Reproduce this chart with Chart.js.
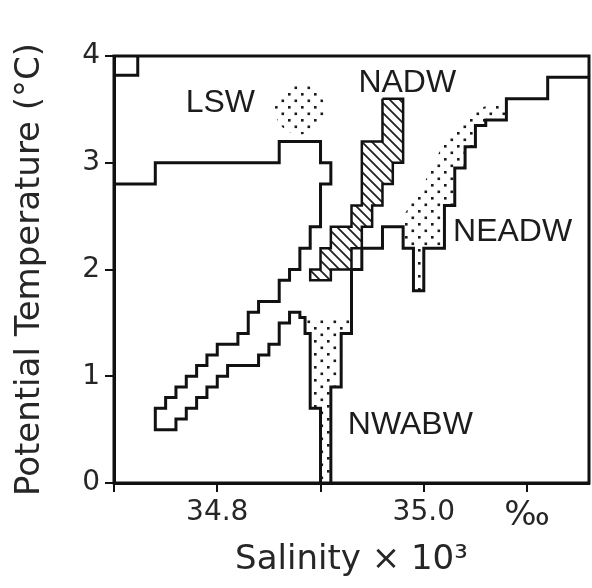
<!DOCTYPE html>
<html>
<head>
<meta charset="utf-8">
<script src="https://cdn.jsdelivr.net/npm/chart.js@4.4.0/dist/chart.umd.min.js"></script>
<style>
  html, body { margin: 0; padding: 0; background: #fff; }
</style>
</head>
<body>
<canvas id="ts" width="592" height="588"></canvas>
<script>
// axis ticks
var xTicks = [34.7, 34.8, 34.9, 35.0, 35.1];
var xTickLabels = ['', '34.8', '', '35.0', '‰'];
var yTicks = [0, 1, 2, 3, 4];

// west outline: LSW envelope, diagonal band, west side of NWABW
var westSal  = [34.70, 34.74, 34.74, 34.86, 34.86, 34.90, 34.90, 34.91, 34.91, 34.90, 34.90, 34.89, 34.89, 34.88, 34.88, 34.87, 34.87, 34.86, 34.86, 34.84,
                34.84, 34.83, 34.83, 34.82, 34.82, 34.80, 34.80, 34.79, 34.79, 34.78, 34.78, 34.77, 34.77, 34.76, 34.76, 34.75, 34.75, 34.74, 34.74, 34.76,
                34.76, 34.77, 34.77, 34.78, 34.78, 34.79, 34.79, 34.80, 34.80, 34.81, 34.81, 34.84, 34.84, 34.85, 34.85, 34.86, 34.86, 34.87, 34.87, 34.88,
                34.88, 34.885, 34.885, 34.89, 34.89, 34.90, 34.90];
var westTemp = [2.8, 2.8, 3.0, 3.0, 3.2, 3.2, 3.0, 3.0, 2.8, 2.8, 2.4, 2.4, 2.2, 2.2, 2.0, 2.0, 1.9, 1.9, 1.7, 1.7,
                1.6, 1.6, 1.4, 1.4, 1.3, 1.3, 1.2, 1.2, 1.1, 1.1, 1.0, 1.0, 0.9, 0.9, 0.8, 0.8, 0.7, 0.7, 0.5, 0.5,
                0.6, 0.6, 0.7, 0.7, 0.8, 0.8, 0.9, 0.9, 1.0, 1.0, 1.1, 1.1, 1.2, 1.2, 1.3, 1.3, 1.5, 1.5, 1.6, 1.6,
                1.55, 1.55, 1.4, 1.4, 0.7, 0.7, 0.0];

// east outline: NWABW east side, NEADW envelope up to the top right
var eastSal  = [34.91, 34.91, 34.92, 34.92, 34.93, 34.93, 34.94, 34.94, 34.96, 34.96, 34.98, 34.98, 34.99, 34.99, 35.00, 35.00,
                35.02, 35.02, 35.03, 35.03, 35.04, 35.04, 35.05, 35.05, 35.06, 35.06, 35.08, 35.08, 35.12, 35.12, 35.16];
var eastTemp = [0.0, 0.9, 0.9, 1.4, 1.4, 2.0, 2.0, 2.2, 2.2, 2.4, 2.4, 2.2, 2.2, 1.8, 1.8, 2.2,
                2.2, 2.6, 2.6, 2.95, 2.95, 3.15, 3.15, 3.35, 3.35, 3.4, 3.4, 3.6, 3.6, 3.8, 3.8];

// small box in the upper left corner
var cornerSal  = [34.70, 34.723, 34.723];
var cornerTemp = [3.82, 3.82, 4.0];

// NADW (hatched)
var nadwSal  = [34.96, 34.96, 34.94, 34.94, 34.93, 34.93, 34.91, 34.91, 34.90, 34.90, 34.89, 34.89, 34.91, 34.91,
                34.93, 34.93, 34.94, 34.94, 34.95, 34.95, 34.96, 34.96, 34.97, 34.97, 34.98, 34.98, 34.96];
var nadwTemp = [3.6, 3.2, 3.2, 2.6, 2.6, 2.4, 2.4, 2.2, 2.2, 2.0, 2.0, 1.9, 1.9, 2.0,
                2.0, 2.2, 2.2, 2.4, 2.4, 2.6, 2.6, 2.8, 2.8, 3.0, 3.0, 3.6, 3.6];

// NWABW (stippled)
var nwabwSal  = [34.885, 34.885, 34.89, 34.89, 34.90, 34.90, 34.91, 34.91, 34.92, 34.92, 34.93, 34.93];
var nwabwTemp = [1.55, 1.4, 1.4, 0.7, 0.7, 0.0, 0.0, 0.9, 0.9, 1.4, 1.4, 1.55];

// NEADW (stippled)
var neadwSal  = [34.98, 34.98, 34.99, 34.99, 35.00, 35.00, 35.02, 35.02, 35.03, 35.03, 35.04, 35.04, 35.05, 35.05,
                 35.06, 35.06, 35.08, 35.08, 35.065, 35.045, 35.03, 35.02, 35.01, 35.00, 34.99, 34.98];
var neadwTemp = [2.4, 2.2, 2.2, 1.8, 1.8, 2.2, 2.2, 2.6, 2.6, 2.95, 2.95, 3.15, 3.15, 3.35,
                 3.35, 3.4, 3.4, 3.55, 3.55, 3.47, 3.33, 3.2, 3.0, 2.8, 2.65, 2.5];

// LSW core (stippled blob)
var lswSal  = [34.88];
var lswTemp = [3.5];

// water mass names and where they sit
var massNames = ['LSW', 'NADW', 'NEADW', 'NWABW'];
var massSal   = [34.803, 34.984, 35.086, 34.987];
var massTemp  = [3.56, 3.75, 2.35, 0.54];

Chart.defaults.font.family = '"DejaVu Sans", sans-serif';

function pts(sal, temp) {
    return sal.map(function (s, i) { return { x: s, y: temp[i] }; });
}

function stipple() {
    var c = document.createElement('canvas');
    c.width = 13; c.height = 13;
    var g = c.getContext('2d');
    g.fillStyle = '#1a1a1a';
    g.fillRect(2, 2, 2.6, 2.6);
    g.fillRect(8.5, 8.5, 2.6, 2.6);
    return g.createPattern(c, 'repeat');
}

function hatch() {
    var s = 10;
    var c = document.createElement('canvas');
    c.width = s; c.height = s;
    var g = c.getContext('2d');
    g.strokeStyle = '#222';
    g.lineWidth = 1.8;
    g.beginPath();
    g.moveTo(0, 0); g.lineTo(s, s);
    g.moveTo(-2, s - 2); g.lineTo(2, s + 2);
    g.moveTo(s - 2, -2); g.lineTo(s + 2, 2);
    g.stroke();
    return g.createPattern(c, 'repeat');
}

var dots = stipple();
var lines = hatch();

var boxAndNames = {
    id: 'boxAndNames',
    afterDatasetsDraw: function (chart) {
        var a = chart.chartArea, ctx = chart.ctx;
        var xs = chart.scales.x, ys = chart.scales.y;
        ctx.save();
        ctx.strokeStyle = '#111';
        ctx.lineWidth = 3;
        ctx.strokeRect(a.left, a.top, a.right - a.left, a.bottom - a.top);
        ctx.fillStyle = '#1c1c1c';
        ctx.font = '32px "Liberation Sans", sans-serif';
        ctx.textAlign = 'center';
        ctx.textBaseline = 'middle';
        for (var i = 0; i < massNames.length; i++) {
            ctx.fillText(massNames[i], xs.getPixelForValue(massSal[i]), ys.getPixelForValue(massTemp[i]));
        }
        ctx.restore();
    }
};

var outline = { showLine: true, borderColor: '#111', borderWidth: 3, pointRadius: 0, fill: false, order: 0 };

new Chart(document.getElementById('ts'), {
    type: 'scatter',
    data: {
        datasets: [
            Object.assign({ data: pts(westSal, westTemp) }, outline),
            Object.assign({ data: pts(eastSal, eastTemp) }, outline),
            Object.assign({ data: pts(cornerSal, cornerTemp) }, outline),
            { data: pts(nadwSal, nadwTemp), showLine: true, borderColor: '#111', borderWidth: 2.5,
              backgroundColor: lines, fill: 'shape', pointRadius: 0, order: 1 },
            { data: pts(nwabwSal, nwabwTemp), showLine: true, borderColor: 'rgba(0,0,0,0)', borderWidth: 1,
              backgroundColor: dots, fill: 'shape', pointRadius: 0, order: 2 },
            { data: pts(neadwSal, neadwTemp), showLine: true, borderColor: 'rgba(0,0,0,0)', borderWidth: 1,
              backgroundColor: dots, fill: 'shape', pointRadius: 0, order: 2 },
            { data: pts(lswSal, lswTemp), showLine: false, pointRadius: 25, pointBorderWidth: 0,
              pointBorderColor: 'rgba(0,0,0,0)', pointBackgroundColor: dots, order: 2 }
        ]
    },
    options: {
        responsive: false,
        animation: false,
        events: [],
        layout: { autoPadding: false, padding: { top: 56, right: 3, left: 0, bottom: 0 } },
        plugins: { legend: { display: false }, tooltip: { enabled: false } },
        scales: {
            x: {
                type: 'linear',
                min: 34.70, max: 35.16,
                afterBuildTicks: function (s) { s.ticks = xTicks.map(function (v) { return { value: v }; }); },
                afterFit: function (s) { s.height = 105; s.paddingLeft = 0; s.paddingRight = 0; },
                ticks: {
                    autoSkip: false, maxRotation: 0, padding: 4, color: '#262626',
                    font: function (c) { return { size: c.index === 4 ? 34 : 28 }; },
                    callback: function (v, i) { return xTickLabels[i]; }
                },
                grid: { drawOnChartArea: false, tickLength: 9, color: '#111', lineWidth: 2 },
                border: { color: '#111', width: 3 },
                title: { display: true, text: 'Salinity × 10³', color: '#262626',
                         font: { size: 34 }, padding: { top: 0, bottom: 7 } }
            },
            y: {
                min: 0, max: 4,
                afterBuildTicks: function (s) { s.ticks = yTicks.map(function (v) { return { value: v }; }); },
                afterFit: function (s) { s.width = 114; },
                ticks: { padding: 5, color: '#262626', font: { size: 28 } },
                grid: { drawOnChartArea: false, tickLength: 9, color: '#111', lineWidth: 2 },
                border: { color: '#111', width: 3 },
                title: { display: true, text: 'Potential Temperature (°C)', color: '#262626',
                         font: { size: 34 }, padding: { top: 10, bottom: 0 } }
            }
        }
    },
    plugins: [boxAndNames]
});
</script>
</body>
</html>
